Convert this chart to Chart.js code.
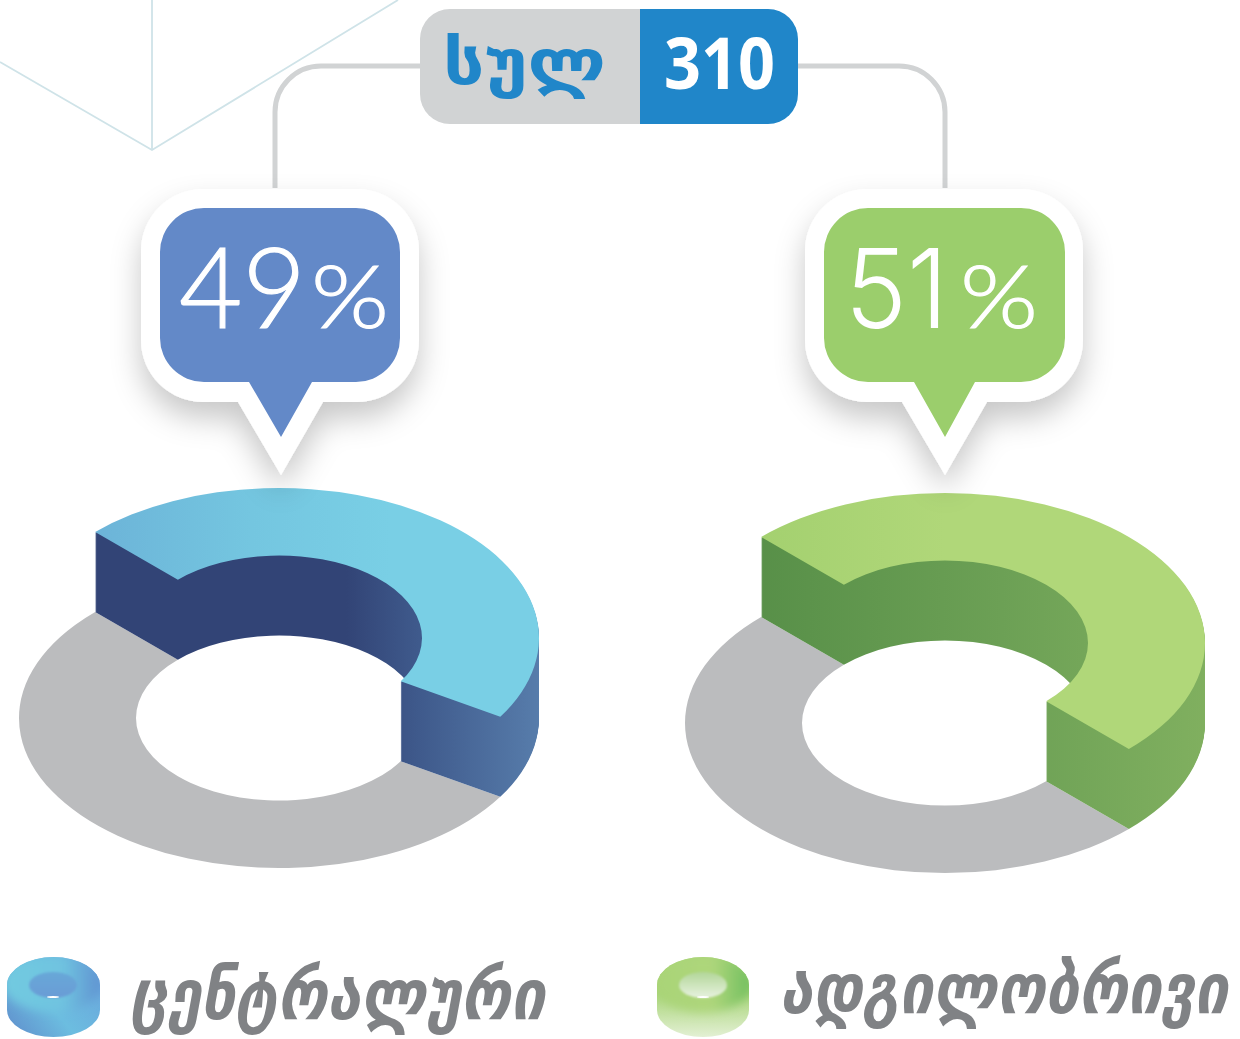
<!DOCTYPE html>
<html lang="ka">
<head>
<meta charset="utf-8">
<title>სულ 310</title>
<script src="https://cdn.jsdelivr.net/npm/chart.js@4"></script>
<style>
  html, body { margin: 0; padding: 0; background: #fff; }
  #page { position: relative; width: 1240px; height: 1039px; overflow: hidden; }
  #page canvas { position: absolute; }
  #leftChart { left: -1px; top: 438px; }
  #rightChart { left: 665px; top: 443px; }
  #art { position: absolute; left: 0; top: 0; }
</style>
</head>
<body>
<div id="page">
  <canvas id="leftChart" width="560" height="560"></canvas>
  <canvas id="rightChart" width="560" height="560"></canvas>
  <svg id="art" width="1240" height="1039" viewBox="0 0 1240 1039">
    <defs>
      <filter id="soft" x="-30%" y="-30%" width="160%" height="170%">
        <feDropShadow dx="0" dy="16" stdDeviation="15" flood-color="#000" flood-opacity="0.22"/>
      </filter>
      <filter id="blur5" x="-20%" y="-30%" width="140%" height="160%"><feGaussianBlur stdDeviation="5"/></filter>
      <filter id="blur1"><feGaussianBlur stdDeviation="1.2"/></filter>
      <clipPath id="iconClipBlue"><path d="M7 985 A46.500 28 0 0 1 100 985 V1010 A46.500 27 0 0 1 7 1010 Z"/></clipPath>
      <clipPath id="iconClipGreen"><path d="M657 985 A46 28 0 0 1 749 985 V1010 A46 27 0 0 1 657 1010 Z"/></clipPath>
      <linearGradient id="iconBlueTop" x1="0" y1="0" x2="1" y2="0">
        <stop offset="0" stop-color="#72cbe0"/>
        <stop offset="0.6" stop-color="#6fc3e0"/>
        <stop offset="1" stop-color="#5f8fd0"/>
      </linearGradient>
      <linearGradient id="iconBlueSide" x1="0" y1="1" x2="1" y2="0.3">
        <stop offset="0" stop-color="#5f8ccb"/>
        <stop offset="0.5" stop-color="#6cbde0"/>
        <stop offset="1" stop-color="#6aa8dc"/>
      </linearGradient>
      <linearGradient id="iconBlueHole" x1="0" y1="0" x2="0" y2="1">
        <stop offset="0" stop-color="#68a8d8"/>
        <stop offset="1" stop-color="#6a9cd6"/>
      </linearGradient>
      <linearGradient id="iconGreenTop" x1="0" y1="0" x2="1" y2="0">
        <stop offset="0" stop-color="#a9d477"/>
        <stop offset="0.6" stop-color="#aed67b"/>
        <stop offset="1" stop-color="#6cbd5d"/>
      </linearGradient>
      <linearGradient id="iconGreenSide" x1="0" y1="0" x2="0" y2="1">
        <stop offset="0.45" stop-color="#a8d478"/>
        <stop offset="1" stop-color="#e3f0d4"/>
      </linearGradient>
      <linearGradient id="iconGreenHole" x1="0" y1="0" x2="0" y2="1">
        <stop offset="0" stop-color="#b2d698"/>
        <stop offset="1" stop-color="#e8f2e0"/>
      </linearGradient>
    </defs>

    <g stroke="#cfe3e8" stroke-width="1.8" fill="none">
      <path d="M0 62 L152 150 L398 0"/>
      <path d="M152 0 L152 150"/>
    </g>

    <g stroke="#d1d3d4" stroke-width="5" fill="none">
      <path d="M275 188 V112 A46 46 0 0 1 321 66 H422"/>
      <path d="M798 66 H899 A46 46 0 0 1 945 112 V188"/>
    </g>

    <path d="M450 9 H640 V124 H450 A30 30 0 0 1 420 94 V39 A30 30 0 0 1 450 9 Z" fill="#d1d3d4"/>
    <path d="M640 9 H768 A30 30 0 0 1 798 39 V94 A30 30 0 0 1 768 124 H640 Z" fill="#2086c9"/>
    <text id="sulText" x="443" y="84" font-family="DejaVu Sans" font-weight="700" font-size="62" fill="#2086c9" textLength="163" lengthAdjust="spacingAndGlyphs"></text>
    <text id="totalText" x="664" y="89" font-family="Open Sans" font-weight="700" font-size="71" fill="#fff" textLength="111" lengthAdjust="spacingAndGlyphs"></text>

    <path d="M203 189 H357 A62 62 0 0 1 419 251 V340 A62 62 0 0 1 357 402 H323 L281 475 L238 402 H203 A62 62 0 0 1 141 340 V251 A62 62 0 0 1 203 189 Z" fill="#fff" filter="url(#soft)"/>
    <path d="M204 208 H356 A44 44 0 0 1 400 252 V338 A44 44 0 0 1 356 382 H312 L281 437 L249 382 H204 A44 44 0 0 1 160 338 V252 A44 44 0 0 1 204 208 Z" fill="#6389c8"/>
    <g fill="#fff" stroke="#fff" stroke-width="1.2" font-weight="300">
      <text id="leftDigits" x="179" y="328" font-family="Lato" font-size="112" textLength="127" lengthAdjust="spacingAndGlyphs"></text>
      <text id="leftSign" x="311" y="328" font-family="Lato" font-size="87" textLength="78" lengthAdjust="spacingAndGlyphs"></text>
    </g>

    <path d="M867 189 H1021 A62 62 0 0 1 1083 251 V340 A62 62 0 0 1 1021 402 H987 L945 475 L902 402 H867 A62 62 0 0 1 805 340 V251 A62 62 0 0 1 867 189 Z" fill="#fff" filter="url(#soft)"/>
    <path d="M868 208 H1021 A44 44 0 0 1 1065 252 V338 A44 44 0 0 1 1021 382 H975 L945 437 L914 382 H868 A44 44 0 0 1 824 338 V252 A44 44 0 0 1 868 208 Z" fill="#9bce6c"/>
    <g fill="#fff" font-weight="300">
      <text id="rightDigits" x="845" y="328" font-family="Inter" font-size="110" textLength="103" lengthAdjust="spacingAndGlyphs"></text>
      <text id="rightSign" x="960" y="328" font-family="Lato" font-size="87" stroke="#fff" stroke-width="1.2" textLength="78" lengthAdjust="spacingAndGlyphs"></text>
    </g>

    <!-- legend icons -->
    <g clip-path="url(#iconClipBlue)">
      <rect x="7" y="957" width="93" height="80" fill="url(#iconBlueSide)"/>
      <ellipse cx="53" cy="983" rx="50" ry="29" fill="url(#iconBlueTop)" filter="url(#blur5)"/>
      <ellipse cx="53" cy="985" rx="24" ry="13" fill="url(#iconBlueHole)" filter="url(#blur1)"/>
      <ellipse cx="53" cy="997" rx="6" ry="1" fill="#fff"/>
    </g>
    <g clip-path="url(#iconClipGreen)">
      <rect x="657" y="957" width="92" height="80" fill="url(#iconGreenSide)"/>
      <ellipse cx="703" cy="983" rx="50" ry="29" fill="url(#iconGreenTop)" filter="url(#blur5)"/>
      <ellipse cx="703" cy="985" rx="24" ry="13" fill="url(#iconGreenHole)" filter="url(#blur1)"/>
      <ellipse cx="703" cy="997" rx="6" ry="1" fill="#fff"/>
    </g>

    <text id="legendCentral" x="130" y="1019" font-family="DejaVu Sans" font-weight="700" font-style="italic" font-size="70" fill="#808285" textLength="415" lengthAdjust="spacingAndGlyphs"></text>
    <text id="legendLocal" x="780" y="1013" font-family="DejaVu Sans" font-weight="700" font-style="italic" font-size="70" fill="#808285" textLength="448" lengthAdjust="spacingAndGlyphs"></text>
  </svg>
</div>
<script>
const totalLabel = "სულ";
const totalValue = "310";
const categories = ["ცენტრალური", "ადგილობრივი"];
const shareLabels = ["49", "51"];
const shareSign = "%";
// slice sizes as drawn in the picture (not quite the printed shares)
const centralSlices = [46.3, 53.7];
const localSlices = [50, 50];

const SQUASH = 0.577;
const WALL = 80;

document.querySelector("#sulText").textContent = totalLabel;
document.querySelector("#totalText").textContent = totalValue;
document.querySelector("#legendCentral").textContent = categories[0];
document.querySelector("#legendLocal").textContent = categories[1];
document.querySelector("#leftDigits").textContent = shareLabels[0];
document.querySelector("#rightDigits").textContent = shareLabels[1];
document.querySelector("#leftSign").textContent = shareSign;
document.querySelector("#rightSign").textContent = shareSign;

function gradient(ctx, stops) {
  const g = ctx.createLinearGradient(0, 0, 560, 0);
  stops.forEach(([at, color]) => g.addColorStop(at, color));
  return g;
}

// draws the raised slice as a stack of copies, the flat one stays on the ground
const raisedRing = {
  id: "raisedRing",
  beforeDatasetDraw(chart, args, opts) {
    const { ctx } = chart;
    const [raised, flat] = chart.getDatasetMeta(0).data;
    const cx = raised.x;
    const cy = raised.y;
    const wall = gradient(ctx, opts.wall);
    const top = gradient(ctx, opts.top);
    const place = (lift, arc, fill) => {
      const face = Object.create(arc.options);
      face.backgroundColor = fill;
      const saved = arc.options;
      arc.options = face;
      ctx.save();
      ctx.translate(cx, cy - lift);
      ctx.scale(1, SQUASH);
      ctx.translate(-cx, -cy);
      arc.draw(ctx, chart.chartArea);
      ctx.restore();
      arc.options = saved;
    };
    place(0, flat, "#bbbcbe");
    for (let lift = 0; lift < WALL; lift += 1) place(lift, raised, wall);
    place(WALL, raised, top);
    return false;
  },
};

function makeRing(selector, values, labels, colors) {
  new Chart(document.querySelector(selector), {
    type: "doughnut",
    data: {
      labels,
      datasets: [{ data: values, backgroundColor: [colors.flat, "#bbbcbe"], borderWidth: 0 }],
    },
    options: {
      responsive: false,
      animation: false,
      rotation: -45,
      cutout: "55%",
      layout: { padding: 20 },
      plugins: {
        legend: { display: false },
        tooltip: { enabled: false },
        raisedRing: { wall: colors.wall, top: colors.top },
      },
    },
    plugins: [raisedRing],
  });
}

makeRing("#leftChart", centralSlices, [categories[0], "სხვა"], {
  flat: "#79cfe5",
  wall: [[0, "#324476"], [0.62, "#324476"], [0.75, "#3f5a8c"], [1, "#5b82b0"]],
  top: [[0.1, "#6aafd6"], [0.45, "#74c6e0"], [0.7, "#79cfe5"], [1, "#79cfe5"]],
});
makeRing("#rightChart", localSlices, [categories[1], "სხვა"], {
  flat: "#b0d779",
  wall: [[0.15, "#578f48"], [0.6, "#6ca055"], [1, "#82b160"]],
  top: [[0.15, "#a3d06f"], [0.5, "#b0d779"], [1, "#b0d779"]],
});
</script>
</body>
</html>
